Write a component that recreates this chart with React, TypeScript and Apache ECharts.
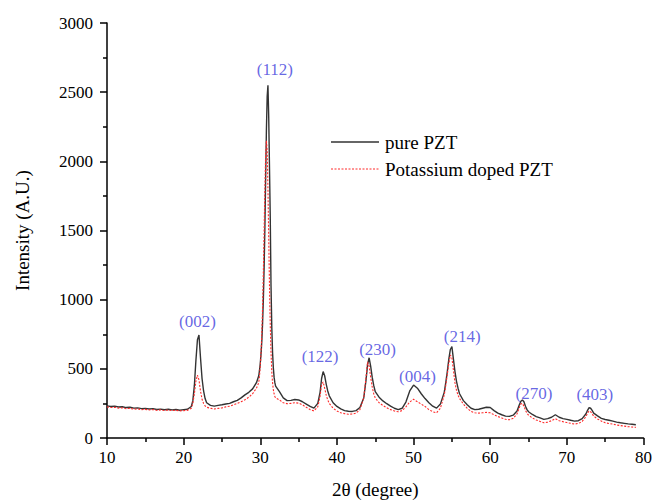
import React, { useEffect, useRef } from "react";
import * as echarts from "echarts";

// 2θ positions (degree)
const twoTheta: number[] = [
  10, 10.5, 11, 11.5, 12, 12.5, 13, 13.5, 14, 14.5, 15, 15.5, 16, 16.5, 17, 17.5, 18, 18.5, 19, 19.5, 20, 20.5, 21,
  21.2, 21.4, 21.6, 21.8, 22.0, 22.2, 22.4, 22.6, 22.8, 23.0,
  23.5, 24, 24.5, 25, 25.5, 26, 26.5, 27, 27.5, 28, 28.5, 29, 29.5,
  29.8, 29.9, 30.0, 30.1, 30.2, 30.3, 30.4, 30.5, 30.6, 30.7, 30.8, 30.9, 31.0, 31.1, 31.2, 31.3, 31.4, 31.5, 31.6, 31.7, 31.8, 31.9, 32.0,
  32.5, 33, 33.5, 34, 34.5, 35, 35.5, 36, 36.5, 37, 37.5,
  37.8, 38.0, 38.2, 38.4, 38.6, 38.8, 39.0,
  39.5, 40, 40.5, 41, 41.5, 42, 42.5, 43, 43.5,
  43.8, 44.0, 44.2, 44.4, 44.6, 44.8, 45.0,
  45.5, 46, 46.5, 47, 47.5, 48, 48.5, 49, 49.5, 50, 50.5, 51, 51.5, 52, 52.5, 53, 53.5, 54,
  54.2, 54.4, 54.6, 54.8, 55.0, 55.2, 55.4, 55.6, 55.8,
  56, 56.5, 57, 57.5, 58, 58.5, 59, 59.5, 60, 60.5, 61, 61.5, 62, 62.5, 63, 63.5,
  63.8, 64.0, 64.2, 64.4, 64.6, 64.8,
  65, 65.5, 66, 66.5, 67, 67.5, 68, 68.5, 69, 69.5, 70, 70.5, 71, 71.5, 72, 72.5,
  72.7, 72.9, 73.1, 73.3,
  73.5, 74, 74.5, 75, 75.5, 76, 76.5, 77, 77.5, 78, 78.5, 79,
];

const purePZT: number[] = [
  232, 228, 230, 224, 226, 220, 222, 216, 218, 212, 214, 210, 212, 206, 209, 204, 208, 203, 206, 201, 205, 208, 228,
  270, 380, 560, 710, 745, 580, 430, 340, 285, 255,
  236, 230, 236, 240, 246, 250, 262, 272, 290, 312, 330, 355, 400,
  450, 490, 540, 610, 700, 830, 1000, 1230, 1520, 1880, 2230, 2470, 2550, 2320, 1960, 1600, 1100, 800, 620, 510, 440, 400, 375,
  335, 290, 270, 272, 278, 275, 262, 245, 228, 216, 250,
  330, 430, 480, 450, 390, 340, 305,
  255, 228, 210, 198, 193, 192, 198, 220, 290,
  420, 530, 580, 520, 440, 380, 335,
  295, 268, 248, 230, 215, 205, 215, 260, 340, 383, 360, 320, 285, 255, 230, 216, 245, 330,
  400, 480, 570, 640, 660, 570, 480, 410, 360,
  320, 270, 240, 215, 205, 208, 215, 222, 220, 198, 180, 168, 158, 156, 165, 195,
  240, 265, 275, 262, 230, 205,
  190, 170, 155, 145, 135, 140, 150, 168, 150, 140, 135, 128, 122, 125, 140, 175,
  200, 220, 215, 200,
  180, 160, 142, 134, 128, 122, 115, 110, 106, 102, 99, 96,
];

const potassiumPZT: number[] = [
  225, 220, 222, 216, 218, 212, 214, 208, 210, 205, 207, 203, 205, 200, 203, 199, 202, 198, 200, 196, 198, 200, 215,
  250, 320, 410, 455, 420, 340, 280, 250, 232, 222,
  215, 210, 214, 218, 225, 230, 240, 250, 262, 276, 295, 320, 360,
  400, 450, 520, 620, 760, 950, 1200, 1500, 1800, 2050, 2150, 2080, 1800, 1450, 1100, 820, 620, 480, 400, 350, 320, 300, 290,
  275, 255, 248, 250, 255, 252, 240, 222, 205, 196, 225,
  300, 390, 405, 360, 310, 275, 250,
  215, 195, 182, 176, 172, 173, 180, 205, 290,
  440, 550, 520, 440, 370, 320, 290,
  255, 235, 218, 205, 195, 190, 198, 225, 260, 280, 262, 245, 228, 205, 190, 182, 215, 310,
  380, 460, 540, 600, 580, 490, 400, 345, 310,
  285, 245, 215, 192, 182, 180, 182, 185, 182, 168, 155, 145, 135, 132, 142, 175,
  220, 245, 250, 230, 200, 178,
  165, 145, 130, 120, 110, 115, 125, 140, 125, 118, 112, 106, 101, 105, 120, 155,
  180, 196, 190, 175,
  158, 138, 122, 110, 105, 100, 94, 90, 86, 82, 79, 77,
];

const seriesNames: string[] = ["pure PZT", "Potassium doped PZT"];
const peakLabels: string[] = ["(002)", "(112)", "(122)", "(230)", "(004)", "(214)", "(270)", "(403)"];
const peakLabelX: number[] = [21.8, 31.9, 37.8, 45.3, 50.5, 56.35, 65.7, 73.65];
const peakLabelY: number[] = [841, 2667, 590, 642, 446, 733, 324, 311];

const xTicks = { min: 10, max: 80, interval: 10 };
const yTicks = { min: 0, max: 3000, interval: 500 };

const FONT = "serif";
const BLACK_LINE = "#333333";
const RED_LINE = "#ff2a2a";

export default function App() {
  const ref = useRef<HTMLDivElement>(null);

  useEffect(() => {
    if (!ref.current) return;
    const chart = echarts.init(ref.current, undefined, { renderer: "svg" });
    const axisCommon = {
      axisLine: { show: true, lineStyle: { color: "#000", width: 1.5 } },
      axisTick: { show: true, inside: false, length: 7, lineStyle: { color: "#000", width: 1.5 } },
      minorTick: { show: true, splitNumber: 2, length: 4, lineStyle: { color: "#000", width: 1.5 } },
      splitLine: { show: false },
      minorSplitLine: { show: false },
    };
    const legendX = 331;
    const legendY = [142, 169];
    chart.setOption({
      animation: false,
      backgroundColor: "#fff",
      textStyle: { fontFamily: FONT },
      grid: { left: 107, top: 23, width: 541, height: 417, containLabel: false },
      graphic: [
        {
          type: "line",
          shape: { x1: legendX, y1: legendY[0], x2: legendX + 48, y2: legendY[0] },
          style: { stroke: BLACK_LINE, lineWidth: 1.3 },
        },
        {
          type: "line",
          shape: { x1: legendX, y1: legendY[1], x2: legendX + 48, y2: legendY[1] },
          style: { stroke: RED_LINE, lineWidth: 1, lineDash: [2, 1.5] },
        },
        {
          type: "text",
          x: legendX + 54,
          y: legendY[0],
          style: { text: seriesNames[0], fill: "#000", fontFamily: FONT, fontSize: 19, verticalAlign: "middle" },
        },
        {
          type: "text",
          x: legendX + 54,
          y: legendY[1],
          style: { text: seriesNames[1], fill: "#000", fontFamily: FONT, fontSize: 19, verticalAlign: "middle" },
        },
      ],
      xAxis: {
        type: "value",
        min: xTicks.min,
        max: xTicks.max,
        interval: xTicks.interval,
        ...axisCommon,
        axisLabel: { color: "#000", fontFamily: FONT, fontSize: 17, margin: 11 },
        name: "2θ (degree)",
        nameLocation: "middle",
        nameGap: 42,
        nameTextStyle: { color: "#000", fontFamily: FONT, fontSize: 19 },
      },
      yAxis: {
        type: "value",
        min: yTicks.min,
        max: yTicks.max,
        interval: yTicks.interval,
        ...axisCommon,
        axisLabel: {
          color: "#000",
          fontFamily: FONT,
          fontSize: 17,
          margin: 14,
          formatter: (v: number) => String(v),
        },
        name: "Intensity (A.U.)",
        nameLocation: "middle",
        nameGap: 75,
        nameTextStyle: { color: "#000", fontFamily: FONT, fontSize: 19 },
      },
      series: [
        {
          name: seriesNames[0],
          type: "line",
          data: twoTheta.map((x, i) => [x, purePZT[i]]),
          symbol: "none",
          showSymbol: false,
          z: 2,
          lineStyle: { color: BLACK_LINE, width: 1.4 },
          itemStyle: { color: BLACK_LINE },
        },
        {
          name: seriesNames[1],
          type: "line",
          data: twoTheta.map((x, i) => [x, potassiumPZT[i]]),
          symbol: "none",
          showSymbol: false,
          z: 3,
          lineStyle: { color: RED_LINE, width: 1.1, type: [2, 1.5] },
          itemStyle: { color: RED_LINE },
        },
        {
          name: "peaks",
          type: "scatter",
          silent: true,
          symbol: "circle",
          symbolSize: 0.1,
          itemStyle: { color: "transparent" },
          data: peakLabels.map((t, i) => [peakLabelX[i], peakLabelY[i], t]),
          label: {
            show: true,
            position: "inside",
            formatter: (p: any) => p.value[2],
            color: "#3f3fdc",
            fontFamily: FONT,
            fontSize: 17,
          },
          z: 5,
        },
      ],
    });
    return () => chart.dispose();
  }, []);

  return (
    <div
      ref={ref}
      style={{ position: "absolute", left: 0, top: 0, width: 655, height: 504 }}
    />
  );
}
